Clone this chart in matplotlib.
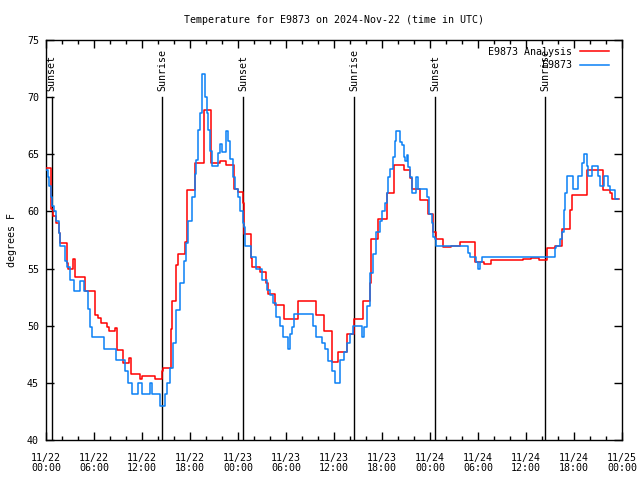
"""
Temperatura de la estación E9873: análisis frente a observación.
"""

import matplotlib
matplotlib.use('Agg')
import matplotlib.pyplot as plt
import matplotlib.dates as mdates
import pandas as pd

# Datos (horas desde 2024-11-22 00:00 UTC)
start = pd.Timestamp('2024-11-22 00:00')
end = pd.Timestamp('2024-11-25 00:00')

ana_hours = [0.0, 0.6, 0.9, 1.3, 1.6, 1.8, 2.6, 2.7, 3.4, 3.6, 4.9, 6.1, 6.5, 6.9,
             7.6, 7.9, 8.6, 8.9, 9.6, 10.4, 10.6, 11.7, 12.0, 13.6, 14.5, 14.6,
             15.6, 15.8, 16.3, 16.5, 17.4, 17.6, 18.6, 19.7, 20.6, 21.7, 22.5,
             23.5, 24.0, 24.6, 24.7, 25.6, 25.8, 26.7, 27.5, 27.75, 28.6, 29.75,
             31.5, 33.75, 34.75, 35.7, 36.5, 37.6, 38.5, 39.6, 40.5, 40.6, 41.5,
             42.6, 43.5, 44.7, 45.5, 45.7, 46.75, 47.8, 48.4, 48.75, 49.6, 50.6,
             51.7, 53.6, 54.7, 55.6, 59.6, 60.6, 61.6, 62.6, 63.6, 64.5, 65.5,
             65.7, 67.6, 69.6, 70.5, 70.7, 71.6]
ana_temp = [63.8, 60.2, 59.6, 59.0, 58.1, 57.2, 55.5, 55.0, 55.8, 54.3, 53.0, 50.9,
            50.7, 50.2, 49.9, 49.5, 49.8, 47.9, 46.7, 47.2, 45.8, 45.3, 45.6, 45.3,
            46.0, 46.3, 49.7, 52.2, 55.3, 56.3, 57.3, 61.9, 64.2, 68.9, 64.2, 64.4,
            64.1, 62.0, 61.7, 60.7, 58.0, 55.9, 55.1, 54.7, 53.7, 52.8, 51.8, 50.6,
            52.2, 50.9, 49.5, 46.8, 47.7, 49.3, 50.6, 52.2, 53.7, 57.6, 59.3, 61.6,
            64.1, 63.6, 62.9, 62.0, 61.0, 59.8, 58.2, 57.6, 56.9, 57.0, 57.3, 55.6,
            55.4, 55.75, 55.8, 55.9, 55.75, 56.8, 57.0, 58.5, 60.1, 61.4, 63.6,
            61.9, 61.6, 61.1, 61.1]

obs_hours = [0.0, 0.2, 0.4, 0.6, 0.8, 1.0, 1.3, 1.6, 1.75, 2.4, 2.6, 3.0, 3.5, 4.25,
             4.7, 4.8, 5.2, 5.5, 5.8, 7.25, 8.8, 9.9, 10.3, 10.7, 11.5, 12.0, 13.0,
             13.3, 14.25, 14.9, 15.1, 15.5, 15.9, 16.3, 16.75, 17.2, 17.5, 17.8,
             18.2, 18.6, 18.8, 19.0, 19.25, 19.5, 19.9, 20.1, 20.3, 20.5, 20.7,
             21.5, 21.75, 22.0, 22.5, 22.8, 23.0, 23.4, 23.6, 24.0, 24.25, 24.6,
             24.7, 24.9, 25.6, 26.3, 27.0, 27.6, 28.0, 28.4, 28.8, 29.2, 29.6,
             30.3, 30.5, 30.7, 31.0, 33.4, 33.8, 34.5, 34.9, 35.3, 35.7, 36.1,
             36.75, 37.2, 37.6, 38.0, 38.4, 39.5, 39.7, 40.1, 40.5, 40.9, 41.3,
             41.7, 42.0, 42.4, 42.6, 42.8, 43.0, 43.4, 43.6, 43.8, 44.25, 44.5,
             44.7, 44.9, 45.1, 45.3, 45.5, 45.7, 46.3, 46.5, 47.6, 47.9, 48.2,
             48.4, 48.6, 48.8, 52.8, 53.0, 53.8, 54.0, 54.25, 54.5, 63.6, 63.8,
             64.25, 64.5, 64.7, 64.75, 64.9, 65.1, 65.9, 66.5, 67.0, 67.2, 67.6,
             67.8, 68.2, 69.0, 69.25, 69.7, 70.3, 70.5, 71.1, 71.5]
obs_temp = [63.6, 63.0, 62.2, 61.3, 60.5, 60.0, 59.2, 58.1, 57.0, 55.7, 55.1, 54.0,
            53.0, 53.9, 53.1, 53.0, 51.5, 49.9, 49.0, 48.0, 47.0, 46.0, 45.0, 44.0,
            45.0, 44.0, 45.0, 44.0, 43.0, 44.0, 45.0, 46.3, 48.5, 51.4, 53.7, 55.7,
            57.2, 59.2, 61.3, 63.3, 64.5, 67.1, 68.6, 72.0, 70.0, 68.6, 67.1, 65.3,
            64.0, 65.1, 65.9, 65.2, 67.0, 66.2, 64.6, 63.0, 62.0, 61.3, 60.0, 59.0,
            58.6, 57.0, 56.0, 55.0, 54.0, 53.1, 52.7, 52.0, 50.8, 50.0, 49.0, 48.0,
            49.3, 49.9, 51.0, 50.0, 49.0, 48.5, 48.0, 46.9, 46.0, 45.0, 47.0, 47.7,
            48.5, 49.3, 50.0, 49.0, 49.9, 51.7, 54.6, 56.3, 58.2, 59.2, 60.0, 60.7,
            61.6, 63.0, 63.7, 64.8, 66.2, 67.0, 66.1, 65.8, 64.8, 64.4, 64.9, 63.9,
            63.0, 61.6, 63.0, 62.0, 61.3, 59.8, 59.0, 57.8, 57.6, 57.0, 56.4, 56.0,
            55.6, 55.0, 55.6, 56.0, 56.8, 57.0, 57.6, 58.2, 59.2, 60.1, 61.6, 63.1,
            62.0, 63.1, 64.2, 65.0, 64.0, 63.1, 64.0, 63.1, 62.2, 63.1, 62.2, 61.9,
            61.1, 61.1]

sunset_hours = [0.7, 24.67, 48.67]
sunrise_hours = [14.54, 38.5, 62.4]
sun_line_top = 70


def to_time(hours):
    return start + pd.to_timedelta(hours, unit='h')


plt.rcParams['font.family'] = 'DejaVu Sans Mono'
plt.rcParams['font.size'] = 7.2

fig = plt.figure(figsize=(6.4, 4.8), dpi=100)
ax = fig.add_axes([46 / 640, 40 / 480, 576 / 640, 400 / 480])

# Líneas de salida y puesta del sol
for label, hours in (('Sunset', sunset_hours), ('Sunrise', sunrise_hours)):
    for t in to_time(hours):
        ax.plot([t, t], [40, sun_line_top], color='black', lw=1.0, zorder=2)
        ax.text(t, sun_line_top + 0.5, label, rotation=90, ha='center', va='bottom',
                zorder=3)

ax.plot(to_time(ana_hours), ana_temp, drawstyle='steps-post', color='#ff0000',
        lw=1.1, label='E9873 Analysis', zorder=4)
ax.plot(to_time(obs_hours), obs_temp, drawstyle='steps-post', color='#0a80f5',
        lw=1.1, label='E9873', zorder=4)

ax.set_xlim(start, end)
ax.set_ylim(40, 75)
ax.set_yticks(range(40, 76, 5))
ax.xaxis.set_major_locator(mdates.HourLocator(byhour=range(0, 24, 6)))
ax.xaxis.set_minor_locator(mdates.HourLocator(byhour=range(0, 24, 2)))
ax.xaxis.set_major_formatter(mdates.DateFormatter('%m/%d\n%H:%M'))
ax.tick_params(which='both', direction='in', top=True, right=True, width=1.0)
ax.tick_params(which='major', length=6, pad=5)
ax.tick_params(axis='x', which='major', pad=9)
ax.tick_params(which='minor', length=3)
for spine in ax.spines.values():
    spine.set_linewidth(1.0)

ax.set_title('Temperature for E9873 on 2024-Nov-22 (time in UTC)', fontsize=7.2, pad=12)
ax.set_ylabel('degrees F', labelpad=7)

ax.legend(loc='upper right', bbox_to_anchor=(1 - 6 / 576, 1), frameon=False,
          markerfirst=False, handlelength=2.9, handletextpad=0.8,
          labelspacing=0.35, borderaxespad=0.3)

fig.canvas.draw()
for lbl in ax.get_xticklabels():
    lbl.set_linespacing(1.05)

fig.savefig('out.png', dpi=100)
